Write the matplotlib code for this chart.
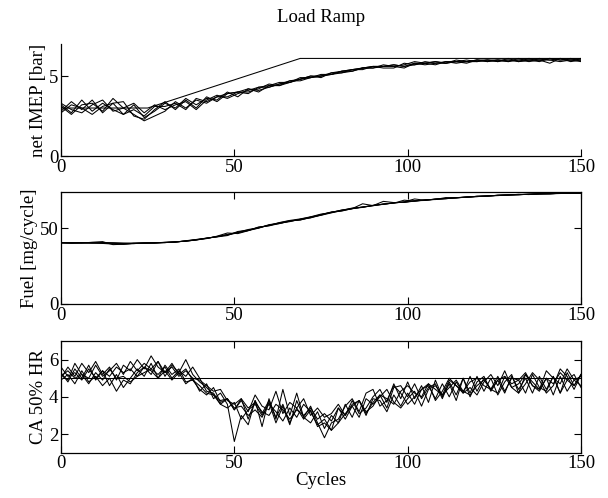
import numpy as np
import matplotlib
matplotlib.use("Agg")
import matplotlib.pyplot as plt

plt.rcParams['font.family'] = ['Liberation Serif', 'DejaVu Serif']
plt.rcParams['font.size'] = 13.5

# cycle grids the traces were sampled on
cycles_imep = np.arange(0, 151, 3)
cycles_ca = np.arange(0, 151, 2)

# net IMEP setpoint
imep_ref_cycles = [0, 25, 69, 150]
imep_ref = [3.0, 3.0, 6.1, 6.1]

imep_1 = [3.2, 2.7, 3.5, 2.8, 3.3, 2.9, 2.6, 3.2, 2.4, 2.8,
          3.3, 3.0, 3.6, 3.2, 3.6, 3.5, 4.0, 3.7, 4.2, 4.1,
          4.3, 4.5, 4.6, 4.8, 5.0, 4.9, 5.2, 5.2, 5.3, 5.5,
          5.5, 5.6, 5.7, 5.6, 5.8, 5.7, 5.8, 5.9, 5.8, 5.9,
          6.0, 5.9, 6.0, 5.9, 6.1, 6.0, 5.9, 6.1, 6.0, 6.1,
          6.0]
imep_2 = [2.8, 3.4, 2.9, 3.5, 2.7, 3.3, 3.4, 2.5, 2.3, 2.9,
          3.4, 2.9, 3.5, 3.0, 3.7, 3.4, 3.9, 4.0, 3.9, 4.3,
          4.4, 4.4, 4.7, 4.7, 4.9, 5.0, 5.1, 5.3, 5.4, 5.4,
          5.6, 5.5, 5.5, 5.8, 5.7, 5.9, 5.8, 5.8, 6.0, 5.9,
          5.9, 6.0, 5.9, 6.0, 6.0, 5.9, 6.0, 5.8, 6.1, 6.0,
          5.9]
imep_3 = [3.1, 2.6, 3.2, 3.3, 2.8, 3.6, 3.0, 2.6, 2.2, 2.5,
          2.8, 3.4, 3.0, 3.5, 3.3, 3.7, 3.7, 4.0, 4.2, 4.0,
          4.4, 4.6, 4.6, 4.9, 4.9, 5.1, 5.1, 5.2, 5.4, 5.5,
          5.6, 5.6, 5.6, 5.5, 5.8, 5.8, 5.7, 5.9, 5.9, 5.8,
          6.0, 6.0, 5.9, 6.1, 5.9, 6.0, 6.1, 6.0, 5.9, 6.0,
          6.0]
imep_4 = [3.3, 2.9, 2.7, 3.2, 3.5, 2.8, 3.0, 3.3, 2.7, 3.2,
          2.9, 3.2, 3.4, 2.9, 3.5, 3.8, 3.6, 3.9, 4.1, 4.3,
          4.3, 4.5, 4.7, 4.8, 4.9, 5.0, 5.2, 5.3, 5.4, 5.5,
          5.5, 5.7, 5.6, 5.7, 5.9, 5.8, 5.9, 5.8, 5.9, 6.0,
          5.9, 6.0, 6.0, 5.9, 6.0, 6.1, 6.0, 6.0, 6.1, 5.9,
          6.0]
imep_5 = [2.7, 3.2, 3.0, 2.6, 3.1, 3.3, 2.6, 2.9, 2.5, 3.1,
          3.1, 3.3, 2.9, 3.6, 3.4, 3.7, 3.9, 4.0, 4.0, 4.2,
          4.5, 4.4, 4.6, 4.8, 5.0, 5.0, 5.1, 5.3, 5.3, 5.5,
          5.6, 5.6, 5.7, 5.6, 5.7, 5.8, 5.9, 5.8, 5.9, 5.9,
          6.0, 5.9, 6.0, 6.0, 5.9, 6.0, 6.0, 6.1, 6.0, 6.0,
          6.1]

fuel_1 = [40.5, 40.3, 40.6, 40.4, 40.2, 40.1, 39.8, 40.0, 40.3, 40.4,
          40.6, 41.0, 41.5, 42.3, 43.5, 44.4, 45.9, 47.4, 49.2, 50.4,
          52.0, 53.8, 55.2, 56.2, 57.6, 59.4, 60.4, 62.1, 63.1, 63.8,
          65.2, 65.8, 66.9, 67.2, 68.2, 68.4, 69.4, 69.7, 70.0, 70.8,
          70.9, 71.5, 71.6, 72.1, 72.2, 72.6, 72.6, 73.0, 73.0, 73.3,
          73.2]
fuel_2 = [40.3, 40.5, 40.2, 40.8, 41.2, 39.2, 39.5, 40.1, 40.4, 40.2,
          40.7, 40.8, 41.8, 42.6, 43.2, 44.8, 46.9, 46.5, 48.4, 50.9,
          51.6, 53.2, 54.8, 55.6, 57.0, 59.0, 60.8, 61.6, 63.0, 66.2,
          65.0, 67.8, 67.0, 67.1, 68.0, 68.9, 69.0, 69.8, 70.3, 70.4,
          71.2, 71.2, 71.9, 71.9, 72.5, 72.3, 72.9, 72.7, 73.2, 73.1,
          73.4]
fuel_3 = [40.6, 40.1, 40.4, 40.3, 40.6, 40.4, 40.2, 39.9, 40.2, 40.5,
          40.5, 41.2, 41.4, 42.4, 43.6, 44.3, 45.2, 47.9, 48.8, 50.2,
          52.4, 53.4, 54.4, 56.0, 57.4, 58.6, 60.2, 61.8, 63.4, 63.9,
          65.0, 66.1, 66.6, 68.6, 67.9, 68.7, 69.1, 70.3, 70.1, 70.6,
          71.1, 71.3, 71.8, 72.0, 72.2, 72.5, 72.8, 72.8, 73.0, 73.2,
          73.3]
fuel_4 = [40.4, 40.4, 40.3, 40.5, 40.0, 39.6, 39.4, 39.9, 40.3, 40.3,
          40.8, 40.9, 41.7, 42.2, 43.4, 44.6, 45.6, 47.0, 48.6, 50.6,
          51.8, 53.6, 55.0, 55.4, 57.4, 59.0, 60.6, 61.4, 63.0, 64.1,
          65.1, 65.9, 66.7, 67.5, 69.4, 68.5, 69.2, 69.5, 70.3, 70.5,
          71.0, 71.4, 71.7, 72.0, 72.3, 72.4, 72.7, 72.9, 73.1, 73.0,
          73.3]
fuel_5 = [40.5, 40.3, 40.5, 40.2, 40.4, 40.3, 40.1, 40.3, 40.1, 40.4,
          40.6, 41.0, 41.6, 42.6, 43.3, 44.5, 45.8, 47.2, 48.5, 50.1,
          52.1, 53.1, 54.7, 55.9, 56.9, 58.7, 60.6, 62.0, 62.9, 64.1,
          64.9, 66.0, 66.8, 67.4, 68.1, 68.6, 69.3, 69.6, 70.2, 70.7,
          71.1, 71.3, 71.8, 72.1, 72.2, 72.5, 72.8, 72.9, 73.1, 73.3,
          73.4]

# CA50 setpoint
ca_ref_cycles = [0.5, 150]
ca_ref = [5.0, 5.0]

ca_1 = [5.0, 5.6, 5.1, 5.8, 5.3, 5.9, 5.2, 5.6, 4.9, 5.7,
        5.4, 6.0, 5.5, 6.2, 5.6, 5.3, 5.8, 5.2, 5.5, 4.9,
        4.6, 4.2, 4.1, 3.6, 3.9, 3.3, 3.9, 2.8, 3.8, 3.1,
        3.8, 2.9, 3.6, 2.6, 3.4, 2.8, 3.3, 2.4, 2.6, 2.2,
        3.4, 3.0, 3.6, 3.8, 3.2, 3.5, 4.1, 3.9, 3.6, 4.3,
        4.6, 4.2, 4.0, 4.7, 4.4, 4.1, 4.9, 4.6, 4.3, 4.8,
        5.0, 4.6, 4.4, 4.9, 5.1, 4.5, 4.7, 5.2, 4.8, 4.4,
        5.0, 4.7, 5.3, 4.9, 4.6, 5.2]
ca_2 = [5.3, 4.8, 5.5, 5.0, 5.7, 4.9, 5.4, 4.6, 5.2, 4.5,
        5.0, 5.5, 5.1, 5.8, 5.0, 5.4, 4.9, 5.3, 4.7, 5.0,
        4.3, 4.7, 3.9, 4.2, 3.6, 1.6, 3.0, 2.5, 3.8, 2.4,
        3.9, 2.8, 4.4, 3.0, 4.2, 2.9, 3.5, 2.6, 1.8, 2.6,
        2.8, 3.5, 3.9, 3.2, 4.2, 4.4, 3.5, 3.8, 4.6, 4.2,
        3.6, 4.0, 4.4, 4.7, 3.8, 4.3, 5.0, 4.6, 4.2, 4.5,
        4.1, 4.8, 5.2, 4.6, 5.4, 4.5, 4.2, 4.7, 5.3, 4.9,
        4.2, 4.6, 5.5, 5.1, 4.4, 5.2]
ca_3 = [4.9, 5.2, 4.7, 5.4, 4.8, 5.1, 4.6, 5.0, 4.3, 4.9,
        4.7, 5.3, 5.6, 5.2, 5.9, 5.1, 5.7, 5.3, 6.0, 5.2,
        4.8, 4.5, 4.1, 3.8, 3.9, 3.3, 3.8, 3.2, 4.1, 3.5,
        3.3, 4.3, 3.1, 3.7, 3.4, 3.9, 3.0, 3.4, 2.9, 3.1,
        3.6, 3.0, 3.8, 3.1, 3.4, 4.0, 4.4, 3.7, 4.7, 3.9,
        4.8, 3.9, 4.6, 3.7, 4.9, 4.0, 4.7, 3.8, 5.0, 4.2,
        5.1, 4.3, 5.0, 4.1, 4.8, 5.2, 4.2, 5.2, 4.6, 4.3,
        5.0, 4.1, 5.1, 4.3, 4.9, 5.1]
ca_4 = [5.6, 5.1, 5.3, 4.9, 5.5, 5.0, 5.4, 5.1, 5.6, 5.3,
        5.5, 5.1, 5.6, 5.4, 5.0, 5.7, 5.2, 5.5, 4.8, 4.9,
        4.4, 4.1, 4.5, 3.7, 3.9, 3.4, 3.5, 3.0, 3.3, 2.9,
        3.7, 2.6, 3.5, 2.5, 3.8, 2.9, 2.6, 3.2, 2.3, 3.0,
        2.6, 3.6, 2.9, 3.8, 3.0, 3.9, 3.8, 3.2, 4.1, 3.5,
        4.2, 3.6, 4.4, 4.6, 3.9, 4.7, 4.0, 4.8, 4.2, 5.1,
        4.3, 5.0, 4.4, 5.1, 4.3, 5.0, 4.9, 4.2, 5.2, 4.5,
        4.3, 5.1, 4.2, 5.3, 4.6, 5.2]
ca_5 = [5.1, 5.4, 5.0, 5.2, 4.7, 5.3, 4.9, 5.5, 5.0, 5.1,
        4.8, 5.1, 5.3, 5.5, 5.2, 5.6, 5.0, 5.4, 5.1, 5.6,
        5.0, 4.3, 4.2, 3.6, 3.4, 3.7, 2.8, 3.3, 3.6, 3.0,
        3.6, 3.2, 2.7, 3.4, 2.9, 3.6, 3.2, 2.5, 2.8, 2.2,
        2.6, 3.1, 3.5, 2.9, 3.9, 3.6, 4.0, 4.4, 3.7, 3.4,
        3.9, 4.3, 3.5, 4.4, 4.6, 4.1, 4.5, 4.9, 4.3, 4.1,
        4.6, 4.9, 4.4, 4.2, 5.1, 4.7, 4.9, 5.3, 4.6, 4.4,
        5.4, 5.0, 4.7, 5.5, 4.9, 4.6]
ca_6 = [5.2, 4.9, 5.8, 5.2, 5.0, 5.7, 5.1, 5.4, 5.8, 5.2,
        5.9, 5.4, 5.8, 5.5, 5.9, 5.3, 5.6, 5.1, 5.4, 5.0,
        4.9, 4.6, 4.3, 4.4, 3.8, 3.6, 3.9, 3.4, 3.7, 3.2,
        3.0, 3.6, 3.3, 2.8, 3.3, 3.0, 3.4, 2.8, 3.1, 2.7,
        3.4, 2.8, 3.5, 3.8, 3.1, 3.7, 4.1, 3.4, 4.5, 4.6,
        4.0, 4.7, 3.9, 4.5, 4.7, 3.9, 4.8, 4.1, 5.0, 4.0,
        4.8, 5.1, 4.3, 4.9, 4.2, 5.1, 4.4, 5.0, 4.2, 5.1,
        4.4, 5.1, 4.2, 4.9, 5.2, 4.5]

x_ticks = [0, 50, 100, 150]
lw = 0.75

fig = plt.figure(figsize=(6.08, 4.98), dpi=100)

# panel 1: net IMEP (box off)
ax1 = fig.add_axes([0.1003, 0.6867, 0.8553, 0.2249])
ax1.plot(imep_ref_cycles, imep_ref, color='k', lw=lw)
for tr in [imep_1, imep_2, imep_3, imep_4, imep_5]:
    ax1.plot(cycles_imep, tr, color='k', lw=lw)
ax1.set_xlim(0, 150)
ax1.set_ylim(0, 7)
ax1.set_yticks([0, 5])
ax1.set_xticks(x_ticks)
ax1.spines['top'].set_visible(False)
ax1.spines['right'].set_visible(False)
ax1.tick_params(direction='in', length=5, width=0.8, pad=2)
ax1.set_ylabel('net IMEP [bar]', labelpad=1)
ax1.set_title('Load Ramp', pad=16, fontsize=13.5)

# panel 2: fuel
ax2 = fig.add_axes([0.1003, 0.3896, 0.8553, 0.2249])
for tr in [fuel_1, fuel_2, fuel_3, fuel_4, fuel_5]:
    ax2.plot(cycles_imep, tr, color='k', lw=lw)
ax2.set_xlim(0, 150)
ax2.set_ylim(0, 74)
ax2.set_yticks([0, 50])
ax2.set_xticks(x_ticks)
ax2.tick_params(direction='in', length=5, width=0.8, pad=2, top=True, right=True)
ax2.set_ylabel('Fuel [mg/cycle]', labelpad=1)

# panel 3: CA50
ax3 = fig.add_axes([0.1003, 0.0910, 0.8553, 0.2243])
ax3.plot(ca_ref_cycles, ca_ref, color='k', lw=lw)
for tr in [ca_1, ca_2, ca_3, ca_4, ca_5, ca_6]:
    ax3.plot(cycles_ca, tr, color='k', lw=lw)
ax3.set_xlim(0, 150)
ax3.set_ylim(1, 7)
ax3.set_yticks([2, 4, 6])
ax3.set_xticks(x_ticks)
ax3.tick_params(direction='in', length=5, width=0.8, pad=2, top=True, right=True)
ax3.set_ylabel('CA 50% HR', labelpad=1)
ax3.set_xlabel('Cycles', labelpad=0)

for ax in (ax1, ax2, ax3):
    for s in ax.spines.values():
        s.set_linewidth(0.9)

fig.savefig('out.png', dpi=100)
